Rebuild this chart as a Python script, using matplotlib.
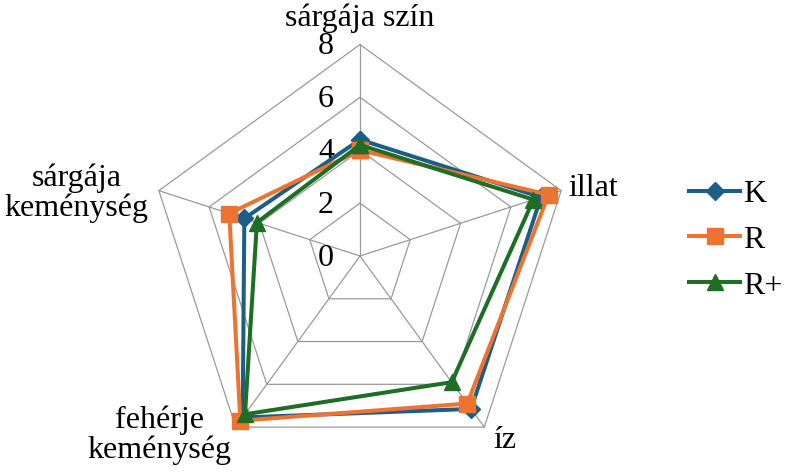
import numpy as np
import matplotlib
matplotlib.use("Agg")
import matplotlib.pyplot as plt
from matplotlib.transforms import offset_copy

plt.rcParams['font.family'] = ['Liberation Serif', 'DejaVu Serif']

categories = ["sárgája szín", "illat", "íz", "fehérje\nkeménység", "sárgája\nkeménység"]
series_names = ["K", "R", "R+"]
K_vals = [4.4, 7.2, 7.15, 7.55, 4.6]
R_vals = [4.0, 7.5, 6.9, 7.7, 5.2]
Rp_vals = [4.2, 6.9, 5.9, 7.4, 4.1]
tick_values = [0, 2, 4, 6, 8]

colors = ["#1C5E86", "#ED7430", "#1E6E26"]
markers = ["D", "s", "^"]
msizes = [9.5, 12, 11]

FS = 23
W, H, DPI = 785, 473, 100
fig = plt.figure(figsize=(W / DPI, H / DPI), dpi=DPI)
cx, cy, R = 360, 256, 211.5
ax = fig.add_axes([(cx - R) / W, (H - cy - R) / H, 2 * R / W, 2 * R / H], projection='polar')
ax.set_theta_offset(np.pi / 2)
ax.set_theta_direction(-1)
ax.set_ylim(0, 8)
ax.set_axis_off()

n = len(categories)
angles = np.linspace(0, 2 * np.pi, n, endpoint=False)
closed = np.concatenate([angles, angles[:1]])

# polygon grid
for t in tick_values[1:]:
    ax.plot(closed, [t] * (n + 1), color="#9a9a9a", lw=0.9, zorder=1, clip_on=False)
for a in angles:
    ax.plot([a, a], [0, 8], color="#9a9a9a", lw=0.9, zorder=1, clip_on=False)

# tick labels
trans = offset_copy(ax.transData, fig=fig, x=-26, y=-2, units='dots')
for t in tick_values:
    ax.text(0, t, str(t), transform=trans, ha='right', va='center', fontsize=FS)

# series
handles = []
for vals, name, c, m, ms in zip([K_vals, R_vals, Rp_vals], series_names, colors, markers, msizes):
    v = np.concatenate([vals, vals[:1]])
    h, = ax.plot(closed, v, color=c, lw=2.9, marker=m, markersize=ms, label=name,
                 zorder=3, clip_on=False)
    handles.append(h)

# category labels (r, ha, va, pixel offset dx, dy)
label_pos = [(8.0, 'center', 'baseline', 0, 19), (8.3, 'left', 'center', 0, 0),
             (8.55, 'left', 'center', 0, -2), (8.25, 'right', 'center', 0, -3),
             (8.4, 'right', 'center', 0, -6)]
for a, lab, (r, ha, va, dx, dy) in zip(angles, categories, label_pos):
    tr = offset_copy(ax.transData, fig=fig, x=dx, y=dy, units='dots')
    ax.text(a, r, lab, transform=tr, ha=ha, va=va, fontsize=FS,
            multialignment='center', linespacing=1.0)

leg = fig.legend(handles=handles, loc='center left', bbox_to_anchor=(689 / W, 1 - 240 / H),
                 frameon=False, fontsize=FS, handlelength=1.6, handletextpad=0.1,
                 labelspacing=0.52, borderaxespad=0, borderpad=0)

fig.savefig("out.png", dpi=DPI)
